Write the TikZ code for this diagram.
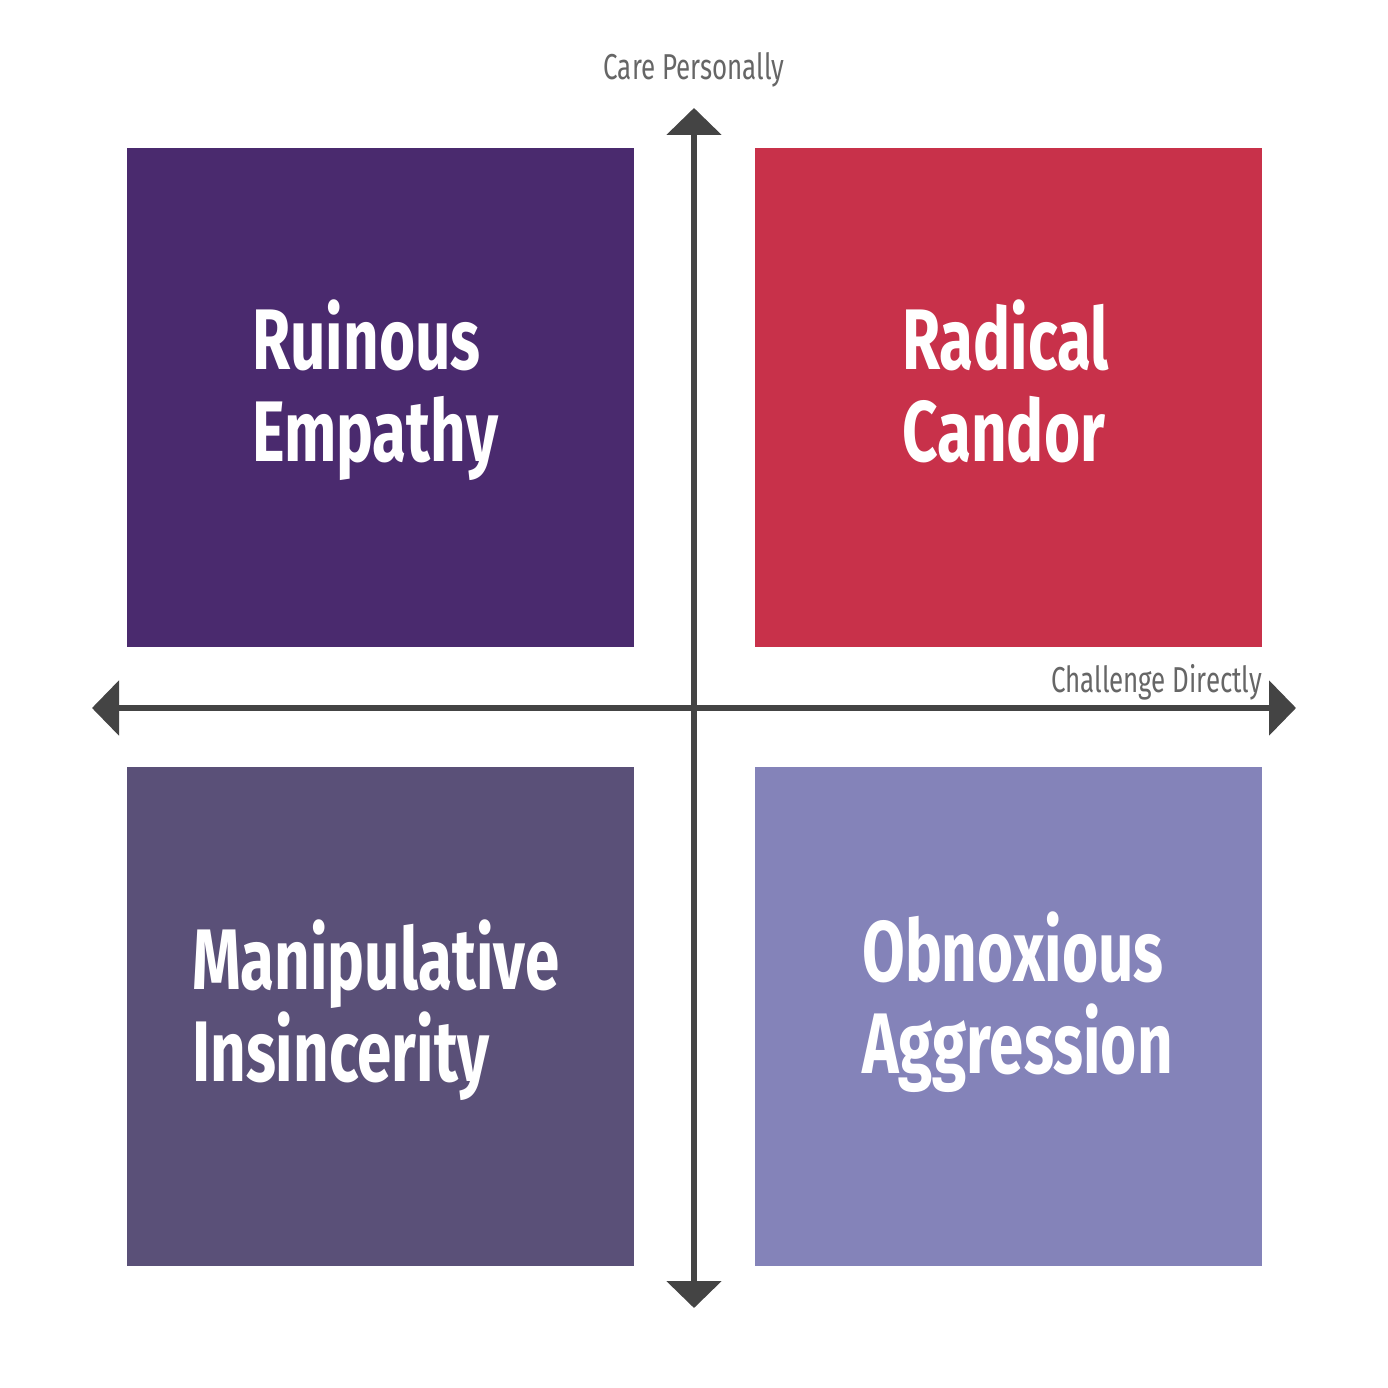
\documentclass[tikz,border=0pt]{standalone}
\usepackage{fontspec}
\setmainfont{Fira Sans}[FakeStretch=0.72]
\usetikzlibrary{arrows.meta}
\definecolor{axis}{HTML}{444444}
\definecolor{lbl}{HTML}{666666}
\begin{document}
\begin{tikzpicture}[x=1pt,y=-1pt,
  quad/.style={draw=none,anchor=north west,minimum width=507pt,minimum height=499pt,inner sep=0},
  big/.style={text=white,font=\fontsize{86}{92}\selectfont\bfseries,align=left,anchor=north west,inner sep=0},
  ax/.style={line width=6pt,draw=axis,{Triangle[length=27pt,width=54pt]}-{Triangle[length=27pt,width=54pt]}},
  small/.style={text=lbl,font=\fontsize{36}{40}\selectfont,inner sep=0}]
\useasboundingbox (0,0) rectangle (1388,1388);
\fill[white] (0,0) rectangle (1388,1388);
\node[quad,fill={rgb,255:red,74;green,42;blue,110}] (tl) at (127,148) {};
\node[quad,fill={rgb,255:red,200;green,49;blue,74}] (tr) at (755,148) {};
\node[quad,fill={rgb,255:red,90;green,80;blue,120}] (bl) at (127,767) {};
\node[quad,fill={rgb,255:red,132;green,131;blue,185}] (br) at (755,767) {};
\node[big] (t1) at (252,300) {Ruinous\\Empathy};
\node[big] (t2) at (902,300) {Radical\\Candor};
\node[big] (t3) at (192,920) {Manipulative\\Insincerity};
\node[big] (t4) at (862,912) {Obnoxious\\Aggression};
\coordinate (top) at (694,108);
\coordinate (bot) at (694,1308);
\coordinate (lft) at (92,708);
\coordinate (rgt) at (1296,708);
\draw[ax] (bot) -- (top);
\draw[ax] (lft) -- (rgt);
\node[small,anchor=base] (cp) at (694,80) {Care Personally};
\node[small,anchor=base east] (cd) at (1262,692) {Challenge Directly};
\end{tikzpicture}
\end{document}
